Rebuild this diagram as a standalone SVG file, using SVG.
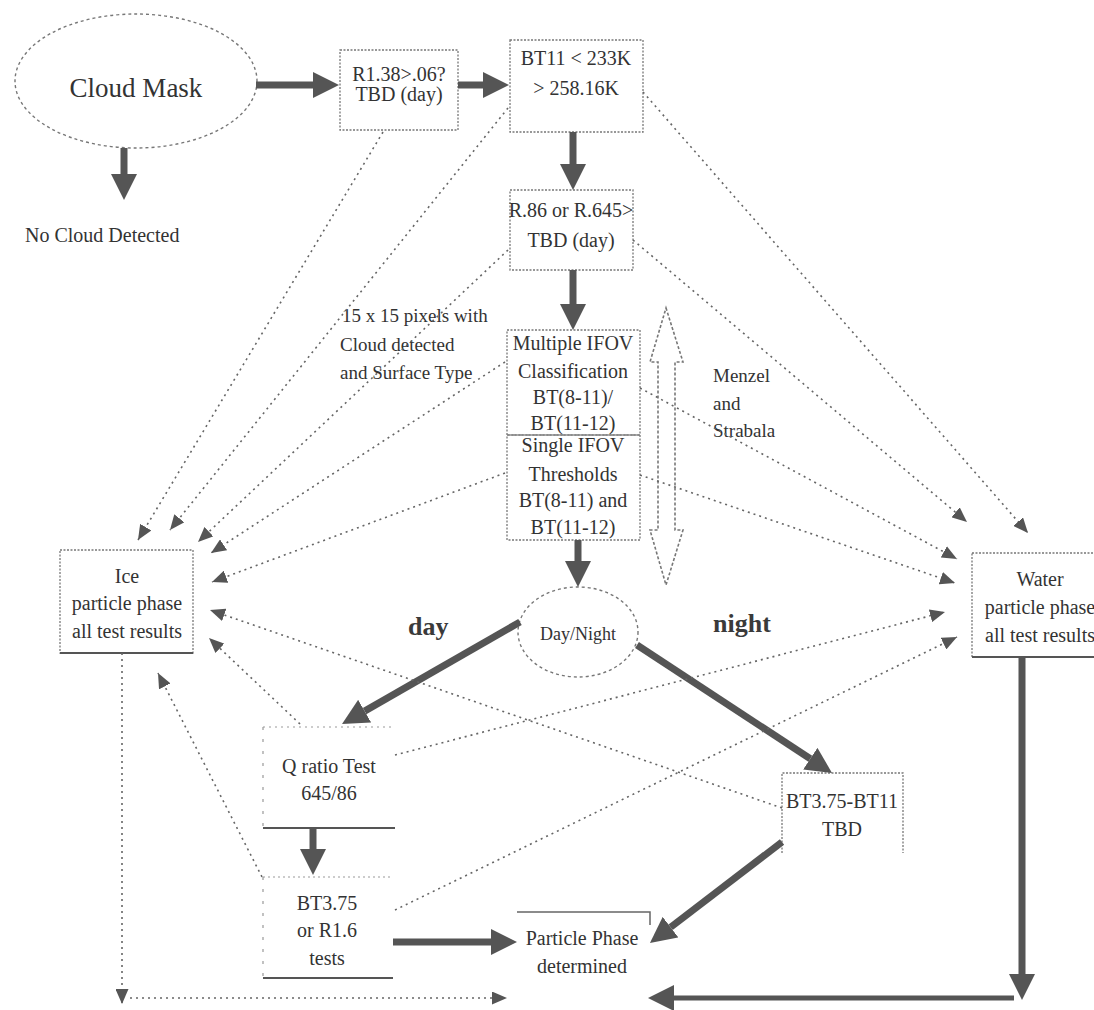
<svg xmlns="http://www.w3.org/2000/svg" width="1094" height="1010" viewBox="0 0 1094 1010" font-family="'Liberation Serif', 'Times New Roman', 'DejaVu Serif', serif">
  <style>
    text { font-family: 'Liberation Serif', 'Times New Roman', 'DejaVu Serif', serif; fill: #333; }
    .lbl { font-size: 20px; text-anchor: middle; }
    .note { font-size: 19px; }
    .big { font-size: 26px; font-weight: bold; fill: #3a3a3a; }
    .box { fill: none; stroke: #777; stroke-width: 1.3; stroke-dasharray: 2 1.5; }
    .edge { fill: none; stroke: #555; stroke-width: 2; }
    .faint { fill: none; stroke: #999; stroke-width: 1.2; stroke-dasharray: 3 9; }
    .oval { fill: none; stroke: #777; stroke-width: 1.4; stroke-dasharray: 3 3; }
    .thick { fill: none; stroke: #555; stroke-width: 7; marker-end: url(#headBig); }
    .dot { fill: none; stroke: #666; stroke-width: 1.6; stroke-dasharray: 2 4; marker-end: url(#headSmall); }
  </style>
  <defs>
    <marker id="headBig" markerUnits="userSpaceOnUse" markerWidth="26" markerHeight="26" refX="0" refY="13" orient="auto">
      <path d="M0,0 L26,13 L0,26 z" fill="#555"/>
    </marker>
    <marker id="headSmall" markerUnits="userSpaceOnUse" markerWidth="15" markerHeight="13" refX="15" refY="6.5" orient="auto">
      <path d="M0,0 L15,6.5 L0,13 z" fill="#555"/>
    </marker>
  </defs>

  <rect width="1094" height="1010" fill="#fff"/>

  <!-- nodes -->
  <g id="cloud-mask">
    <ellipse class="oval" cx="136" cy="81" rx="121" ry="67"/>
    <text x="136" y="97" style="font-size:27px;text-anchor:middle">Cloud Mask</text>
  </g>
  <g id="no-cloud">
    <text x="25" y="242" style="font-size:20px">No Cloud Detected</text>
  </g>
  <g id="r138">
    <rect class="box" x="340" y="50" width="118" height="80"/>
    <text class="lbl" x="399" y="81">R1.38&gt;.06?</text>
    <text class="lbl" x="399" y="101">TBD (day)</text>
  </g>
  <g id="bt11">
    <rect class="box" x="510" y="40" width="133" height="92"/>
    <text class="lbl" x="576" y="65">BT11 &lt; 233K</text>
    <text class="lbl" x="576" y="95">&gt; 258.16K</text>
  </g>
  <g id="r86">
    <rect class="box" x="510" y="190" width="123" height="80"/>
    <text class="lbl" x="571" y="217">R.86 or R.645&gt;</text>
    <text class="lbl" x="571" y="247">TBD (day)</text>
  </g>
  <g id="multiple-ifov">
    <rect class="box" x="507" y="330" width="133" height="105"/>
    <text class="lbl" x="573" y="350">Multiple IFOV</text>
    <text class="lbl" x="573" y="378">Classification</text>
    <text class="lbl" x="573" y="404">BT(8-11)/</text>
    <text class="lbl" x="573" y="430">BT(11-12)</text>
  </g>
  <g id="single-ifov">
    <rect class="box" x="507" y="435" width="133" height="105"/>
    <text class="lbl" x="573" y="452">Single IFOV</text>
    <text class="lbl" x="573" y="481">Thresholds</text>
    <text class="lbl" x="573" y="507">BT(8-11) and</text>
    <text class="lbl" x="573" y="534">BT(11-12)</text>
  </g>
  <g id="pixels-note">
    <text class="note" x="342" y="322">15 x 15 pixels with</text>
    <text class="note" x="340" y="351">Cloud detected</text>
    <text class="note" x="340" y="379">and Surface Type</text>
  </g>
  <g id="menzel-note">
    <text class="note" x="713" y="382">Menzel</text>
    <text class="note" x="713" y="410">and</text>
    <text class="note" x="713" y="437">Strabala</text>
  </g>
  <g id="range-arrow">
    <polygon points="666,308 683,362 675,362 675,530 683,530 666,585 650,530 658,530 658,362 650,362" fill="#fff" stroke="#777" stroke-width="1.6" stroke-dasharray="3 2"/>
  </g>
  <g id="ice">
    <rect class="box" x="60" y="550" width="133" height="103"/>
    <line class="edge" x1="60" y1="653" x2="193" y2="653"/>
    <text class="lbl" x="127" y="583">Ice</text>
    <text class="lbl" x="127" y="610">particle phase</text>
    <text class="lbl" x="127" y="638">all test results</text>
  </g>
  <g id="water">
    <rect class="box" x="972" y="553" width="130" height="104"/>
    <line class="edge" x1="972" y1="657" x2="1094" y2="657"/>
    <text class="lbl" x="1040" y="586">Water</text>
    <text class="lbl" x="1040" y="614">particle phase</text>
    <text class="lbl" x="1040" y="642">all test results</text>
  </g>
  <g id="day-night">
    <ellipse class="oval" cx="578" cy="632" rx="60" ry="45"/>
    <text x="578" y="640" style="font-size:18px;text-anchor:middle">Day/Night</text>
  </g>
  <g id="day-label">
    <text class="big" x="408" y="635">day</text>
  </g>
  <g id="night-label">
    <text class="big" x="713" y="632">night</text>
  </g>
  <g id="q-ratio">
    <line x1="263" y1="727" x2="393" y2="727" stroke="#999" stroke-width="1.2" stroke-dasharray="2 4"/>
    <line class="faint" x1="263" y1="727" x2="263" y2="828"/>
    <line class="edge" x1="263" y1="828" x2="395" y2="828"/>
    <text class="lbl" x="329" y="773">Q ratio Test</text>
    <text class="lbl" x="329" y="800">645/86</text>
  </g>
  <g id="bt375">
    <line x1="263" y1="877" x2="393" y2="877" stroke="#999" stroke-width="1.2" stroke-dasharray="2 3"/>
    <line class="faint" x1="263" y1="877" x2="263" y2="978"/>
    <line class="edge" x1="263" y1="978" x2="393" y2="978"/>
    <text class="lbl" x="327" y="910">BT3.75</text>
    <text class="lbl" x="327" y="937">or R1.6</text>
    <text class="lbl" x="327" y="965">tests</text>
  </g>
  <g id="bt375-bt11">
    <path class="box" d="M782,853 V773 H903 V853"/>
    <text class="lbl" x="842" y="808">BT3.75-BT11</text>
    <text class="lbl" x="842" y="836">TBD</text>
  </g>
  <g id="particle-phase">
    <path d="M517,912 H650 V925" fill="none" stroke="#666" stroke-width="1.5"/>
    <text class="lbl" x="582" y="945">Particle Phase</text>
    <text class="lbl" x="582" y="973">determined</text>
  </g>

  <!-- connectors -->
  <g id="connectors">
    <!-- main flow -->
    <line class="thick" x1="124" y1="148" x2="124" y2="174"/>
    <line class="thick" x1="256" y1="85" x2="313" y2="85"/>
    <line class="thick" x1="458" y1="85" x2="483" y2="85"/>
    <line class="thick" x1="573" y1="132" x2="573" y2="164"/>
    <line class="thick" x1="573" y1="270" x2="573" y2="304"/>
    <line class="thick" x1="578" y1="540" x2="578" y2="561"/>
    <line class="thick" x1="520" y1="622" x2="364.6" y2="711.1"/>
    <line class="thick" x1="637" y1="645" x2="810.3" y2="758.7"/>
    <line class="thick" x1="782" y1="842" x2="670.6" y2="927.2"/>
    <line class="thick" x1="393" y1="942" x2="491" y2="942"/>
    <line class="thick" x1="313" y1="828" x2="313" y2="849"/>
    <line class="thick" x1="1022" y1="657" x2="1022" y2="974"/>
    <line class="thick" x1="1014" y1="998" x2="674" y2="998" style="stroke-width:5"/>

    <!-- tests feeding the ice result -->
    <line class="dot" x1="383" y1="132" x2="138" y2="540"/>
    <line class="dot" x1="508" y1="108" x2="170" y2="530"/>
    <line class="dot" x1="508" y1="250" x2="198" y2="542"/>
    <line class="dot" x1="505" y1="362" x2="211" y2="553"/>
    <line class="dot" x1="505" y1="473" x2="212" y2="582"/>
    <line class="dot" x1="782" y1="808" x2="210" y2="610"/>
    <line class="dot" x1="300" y1="724" x2="209" y2="638"/>
    <line class="dot" x1="262" y1="877" x2="158" y2="673"/>

    <!-- tests feeding the water result -->
    <line class="dot" x1="643" y1="92" x2="1028" y2="533"/>
    <line class="dot" x1="633" y1="240" x2="967" y2="522"/>
    <line class="dot" x1="640" y1="388" x2="957" y2="559"/>
    <line class="dot" x1="640" y1="475" x2="955" y2="583"/>
    <line class="dot" x1="395" y1="755" x2="945" y2="612"/>
    <line class="dot" x1="395" y1="910" x2="957" y2="637"/>

    <!-- ice result down to the final phase -->
    <line class="dot" x1="122" y1="653" x2="122" y2="1004"/>
    <line class="dot" x1="130" y1="998" x2="507" y2="998"/>
  </g>
</svg>
